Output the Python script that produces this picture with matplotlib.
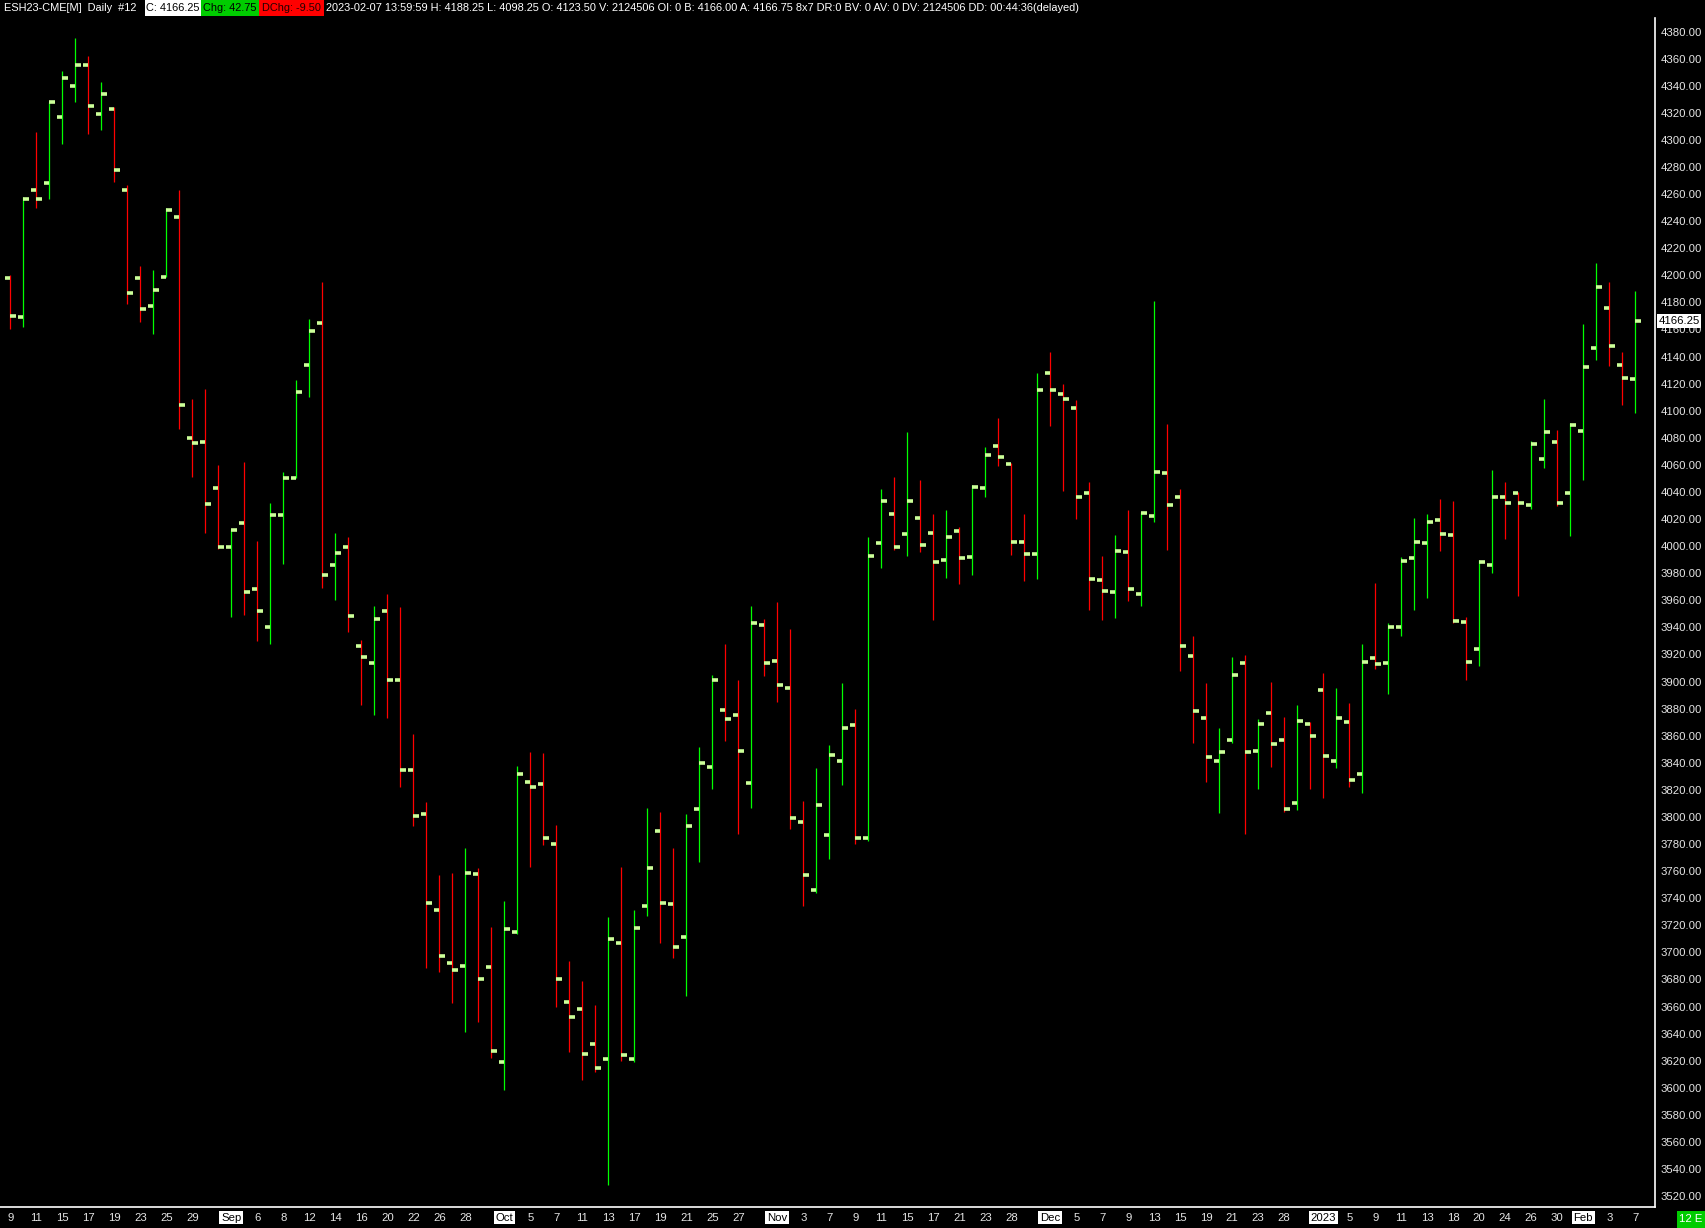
import matplotlib
matplotlib.use('Agg')
import matplotlib.pyplot as plt
from matplotlib.patches import Rectangle

W, H = 1706, 1228
plt.rcParams['font.family'] = ['Liberation Sans Narrow', 'Liberation Sans', 'DejaVu Sans']

# daily OHLC, ESH23 Aug 9 2022 .. Feb 7 2023
opens = [4198, 4169.5, 4263, 4268, 4317, 4340, 4355.5, 4319, 4323, 4263,
         4198, 4177.5, 4199, 4243, 4079.5, 4077, 4043, 3999.5, 4017, 3968.5,
         3940.5, 4023, 4050.5, 4134, 4165, 3986, 3999, 3926, 3913.5, 3952,
         3901.5, 3835, 3802, 3731, 3692.5, 3690, 3758, 3689.5, 3619, 3715,
         3826, 3824, 3780, 3663.5, 3658.5, 3632, 3621, 3707, 3621, 3734,
         3790, 3736, 3711.5, 3806, 3837, 3879, 3875, 3825, 3942, 3915.5,
         3895.5, 3796.5, 3746, 3787, 3841, 3868, 3784.5, 4002, 4024, 4009,
         4021, 4010, 3990, 4011.5, 3992, 4043, 4074, 4061, 4003, 3994,
         4128, 4112, 4102, 4039, 3975, 3966.5, 3996, 3965, 4022, 4054,
         4036.5, 3919, 3873, 3841.5, 3856.5, 3914, 3849, 3877, 3857, 3810,
         3869, 3894, 3841.5, 3870.5, 3832, 3917.5, 3914, 3940.5, 3991.5, 4002.5,
         4019.5, 4008, 3944, 3924, 3986, 4036.5, 4039, 4030.5, 4064.5, 4077,
         4039, 4085, 4146, 4176, 4134, 4123.5]
highs = [4200, 4258, 4306, 4328, 4351, 4375, 4362, 4342.5, 4324, 4266.5,
         4207, 4204, 4249.5, 4263, 4108.5, 4116, 4060, 4012.5, 4062, 4004,
         4031.5, 4054.5, 4122.5, 4167.5, 4195, 4010, 4006.5, 3930.5, 3955.5, 3965,
         3955, 3861, 3811, 3757.5, 3759, 3777, 3762.5, 3719, 3738, 3837.5,
         3848, 3847, 3794, 3694, 3679, 3661.5, 3726, 3763, 3731, 3807,
         3803.5, 3777, 3802, 3852, 3905, 3928, 3901, 3955.5, 3946, 3959,
         3939, 3812, 3836, 3853, 3899, 3879.5, 4007, 4042.5, 4051, 4084,
         4049, 4023.5, 4027, 4014.5, 4045.5, 4073.5, 4094.5, 4061.5, 4023.5, 4127.5,
         4143, 4119.5, 4108, 4047, 3992.5, 4008, 4027, 4025, 4181, 4090.5,
         4042.5, 3934, 3899, 3865.5, 3918, 3919.5, 3872, 3900, 3874, 3882.5,
         3870.5, 3906, 3895.5, 3884.5, 3928, 3973, 3943, 3992, 4021, 4024,
         4035, 4033, 3948, 3990, 4056.5, 4047, 4040, 4077.5, 4109, 4086,
         4091, 4164, 4209, 4195, 4143, 4188.25]
lows = [4160, 4162, 4250, 4256, 4297, 4328, 4304, 4307, 4269, 4179,
        4165.5, 4157, 4198.5, 4086.5, 4051, 4010, 3998, 3947.5, 3949, 3930,
        3927.5, 3987, 4050, 4110, 3969, 3960, 3936.5, 3882.5, 3875.5, 3873,
        3822, 3793, 3688.5, 3685.5, 3662.5, 3641, 3648.5, 3622, 3598.5, 3713.5,
        3763, 3779, 3659.5, 3626.5, 3605.5, 3612, 3528, 3619.5, 3619, 3727,
        3707, 3696, 3668, 3767, 3821, 3856, 3787.5, 3807, 3904, 3885,
        3791, 3734, 3744, 3769, 3823.5, 3780, 3782, 3984, 3997.5, 3992.5,
        3995.5, 3945.5, 3976.5, 3972, 3978.5, 4036.5, 4059, 3993.5, 3974, 3975.5,
        4088.5, 4040.5, 4020, 3953, 3945.5, 3947, 3959.5, 3956, 4018, 3997,
        3908, 3854.5, 3826, 3803, 3854.5, 3787.5, 3820.5, 3837, 3803.5, 3805.5,
        3820.5, 3814, 3836, 3822, 3818, 3909, 3891, 3934, 3953, 3961.5,
        3996.5, 3943.5, 3901, 3911.5, 3980, 4005, 3963, 4027.5, 4057.5, 4029.5,
        4007.5, 4049, 4137.5, 4133, 4104, 4098.25]
closes = [4170, 4256, 4256, 4328, 4346, 4355.5, 4325, 4334, 4278, 4187,
          4175, 4189, 4248, 4104, 4076, 4031, 3999.5, 4012, 3966, 3952,
          4023, 4050, 4114, 4159, 3979, 3995, 3948.5, 3918.5, 3946.5, 3901.5,
          3835, 3800.5, 3736.5, 3697, 3687, 3758.5, 3680, 3627, 3717, 3831.5,
          3822, 3784.5, 3680, 3652, 3625, 3615, 3710, 3624.5, 3718, 3762,
          3736.5, 3704, 3793.5, 3840, 3901.5, 3872, 3849, 3943, 3914, 3897.5,
          3799, 3757.5, 3809, 3846, 3866, 3784.5, 3993, 4033, 3999, 4033,
          4001, 3988, 4007, 3991, 4044, 4067, 4066, 4003, 3994.5, 4115.5,
          4115.5, 4109, 4036, 3976, 3967, 3996.5, 3968, 4024.5, 4055, 4030.5,
          3926.5, 3878, 3844.5, 3848, 3905, 3848, 3869, 3854, 3806, 3871,
          3860, 3845, 3873, 3827.5, 3914.5, 3913, 3940, 3989, 4003, 4018,
          4009, 3945, 3914.5, 3988, 4036.5, 4032, 4031.5, 4075.5, 4084, 4032,
          4089.5, 4132.5, 4191.5, 4148, 4124, 4166.25]

date_ticks = [0, 2, 4, 6, 8, 10, 12, 14, 17, 19, 21, 23, 25, 27, 29, 31, 33, 35,
              38, 40, 42, 44, 46, 48, 50, 52, 54, 56, 59, 61, 63, 65, 67, 69, 71,
              73, 75, 77, 80, 82, 84, 86, 88, 90, 92, 94, 96, 98, 101, 103, 105,
              107, 109, 111, 113, 115, 117, 119, 121, 123, 125]
date_labels = ['9', '11', '15', '17', '19', '23', '25', '29', 'Sep', '6', '8', '12',
               '14', '16', '20', '22', '26', '28', 'Oct', '5', '7', '11', '13', '17',
               '19', '21', '25', '27', 'Nov', '3', '7', '9', '11', '15', '17', '21',
               '23', '28', 'Dec', '5', '7', '9', '13', '15', '19', '21', '23', '28',
               '2023', '5', '9', '11', '13', '18', '20', '24', '26', '30', 'Feb', '3', '7']
month_labels = ['Sep', 'Oct', 'Nov', 'Dec', '2023', 'Feb']
price_ticks = list(range(3520, 4381, 20))
last_price = 4166.25

fig = plt.figure(figsize=(W / 100, H / 100), dpi=100, facecolor='black')
ax = fig.add_axes([0, 21 / H, 1655 / W, (1207 - 18) / H])
ax.set_facecolor('black')

n = len(opens)
xs = list(range(n))
wick_clr = ['#00FF00' if c >= o else '#FF0000' for o, c in zip(opens, closes)]
tick_clr = '#CCFF99'

ax.vlines(xs, lows, highs, colors=wick_clr, linewidth=0.9)
ax.hlines(opens, [x - 0.44 for x in xs], xs, colors=tick_clr, linewidth=2.6)
ax.hlines(closes, xs, [x + 0.44 for x in xs], colors=tick_clr, linewidth=2.6)

ax.set_xlim(-0.79, 126.52)
ax.set_ylim(3512, 4390)

for s in ['top', 'left']:
    ax.spines[s].set_visible(False)
ax.spines['right'].set_color('white')
ax.spines['bottom'].set_color('white')
ax.spines['right'].set_linewidth(1.2)
ax.spines['bottom'].set_linewidth(1.2)

ax.yaxis.tick_right()
ax.set_yticks(price_ticks)
ax.set_yticklabels(['%.2f' % p for p in price_ticks])
ax.tick_params(axis='y', length=0, pad=4, colors='#E6E6E6', labelsize=8.2)

ax.set_xticks(date_ticks)
ax.set_xticklabels(date_labels)
ax.tick_params(axis='x', length=0, pad=4, colors='#E6E6E6', labelsize=8.2)
for lbl in ax.get_xticklabels():
    if lbl.get_text() in month_labels:
        lbl.set_color('black')
        lbl.set_bbox(dict(facecolor='white', edgecolor='none', pad=1.2))

# last price marker
ax.text(1.002, last_price, '%.2f' % last_price, transform=ax.get_yaxis_transform(),
        ha='left', va='center', fontsize=8.2, color='black',
        bbox=dict(facecolor='white', edgecolor='none', pad=1.2))

# header line
def px(x, y):
    return x / W, 1 - y / H

hy = 8
rest = ('2023-02-07 13:59:59 H: 4188.25 L: 4098.25 O: 4123.50 V: 2124506 OI: 0 '
        'B: 4166.00 A: 4166.75 8x7 DR:0 BV: 0 AV: 0 DV: 2124506 DD: 00:44:36(delayed)')
t = fig.text(*px(326, hy), rest, color='white', fontsize=9, ha='left', va='center')
r = fig.canvas.get_renderer()
fs = 9 * 757 / t.get_window_extent(r).width
t.set_fontsize(fs)

fig.text(*px(4, hy), 'ESH23-CME[M]  Daily  #12', color='white', fontsize=fs,
         ha='left', va='center')
boxes = [(145, 201, 'white', 'C: 4166.25', 'black'),
         (201, 259, '#00CC00', 'Chg: 42.75', 'black'),
         (259, 324, '#FF0000', 'DChg: -9.50', '#220000')]
for x0, x1, bg, s, fg in boxes:
    fig.patches.append(Rectangle((x0 / W, 1 - 16 / H), (x1 - x0) / W, 16 / H,
                                 transform=fig.transFigure, facecolor=bg,
                                 edgecolor='none', zorder=0))
    fig.text(*px((x0 + x1) / 2, hy), s, color=fg, fontsize=fs, ha='center', va='center')

# bottom right status box
fig.patches.append(Rectangle((1677 / W, 0), 29 / W, 17 / H, transform=fig.transFigure,
                             facecolor='#00CC00', edgecolor='none'))
fig.text(*px(1691, 1219.5), '12 E', color='white', fontsize=8.2, ha='center', va='center')

fig.savefig('out.png', dpi=100, facecolor='black')
